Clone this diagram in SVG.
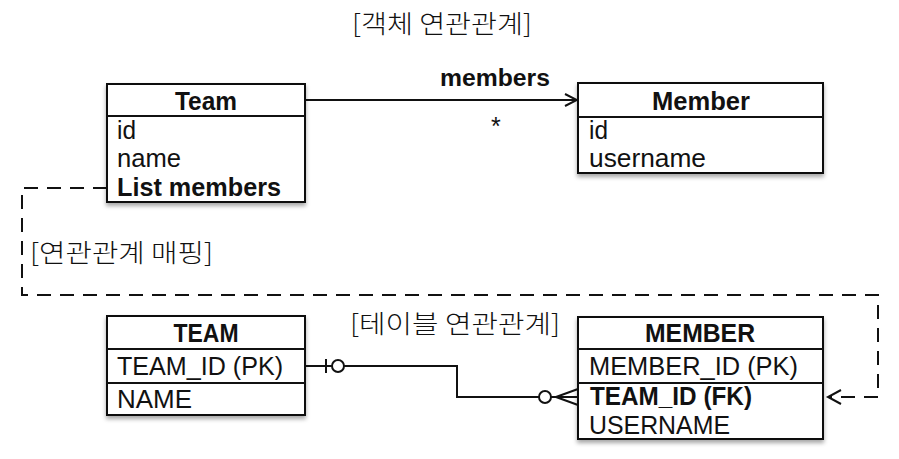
<svg xmlns="http://www.w3.org/2000/svg" width="899" height="459" viewBox="0 0 899 459">
<defs>
<style>
text{font-family:"Liberation Sans","Noto Sans CJK KR",sans-serif;fill:#111;}
.h{font-size:25px;font-weight:700;text-anchor:middle;}
.f{font-size:25px;font-weight:400;}
.fb{font-size:25px;font-weight:700;}
.lbl{font-family:"Noto Sans CJK KR",sans-serif;font-size:25px;font-weight:300;}
.box{fill:#fff;stroke:#111;stroke-width:2;filter:url(#sh);}
.ln{stroke:#111;stroke-width:2;fill:none;}
.dash{stroke:#111;stroke-width:2;fill:none;stroke-dasharray:14,9;}
</style>
<filter id="sh" x="-10%" y="-10%" width="120%" height="130%">
<feDropShadow dx="0" dy="3" stdDeviation="2" flood-color="#000" flood-opacity="0.35"/>
</filter>
<marker id="open" markerWidth="14" markerHeight="14" refX="13" refY="7" orient="auto" markerUnits="userSpaceOnUse">
<path d="M1,1 L13,7 L1,13" fill="none" stroke="#111" stroke-width="2"/>
</marker>
</defs>
<text class="lbl" x="352" y="33" textLength="180" lengthAdjust="spacingAndGlyphs">[객체 연관관계]</text>
<text class="lbl" x="350" y="333" textLength="210" lengthAdjust="spacingAndGlyphs">[테이블 연관관계]</text>
<text class="lbl" x="30" y="262" textLength="183" lengthAdjust="spacingAndGlyphs">[연관관계 매핑]</text>
<g id="connectors">
<line class="ln" x1="306" y1="100" x2="577" y2="100" marker-end="url(#open)"/>
<text class="fb" x="440" y="86" textLength="110" lengthAdjust="spacingAndGlyphs" style="font-size:24px">members</text>
<text class="f" x="491" y="135">*</text>
<path class="dash" d="M107,188 H22 V295 H878 V397 H829"/>
<path d="M841,390 L828,397 L841,404" fill="none" stroke="#111" stroke-width="2"/>
<path class="ln" d="M305,366 H332"/>
<line class="ln" x1="326" y1="359" x2="326" y2="373"/>
<circle cx="338" cy="366" r="6" fill="#fff" stroke="#111" stroke-width="2"/>
<path class="ln" d="M344,366 H457 V397 H539"/>
<circle cx="545" cy="397" r="6" fill="#fff" stroke="#111" stroke-width="2"/>
<path class="ln" d="M551,397 H578 M556,397 L578,389 M556,397 L578,405"/>
</g>
<g id="team">
<rect class="box" x="107" y="84" width="198" height="118"/>
<line class="ln" x1="107" y1="116" x2="305" y2="116"/>
<text class="h" x="206" y="110" textLength="62" lengthAdjust="spacingAndGlyphs">Team</text>
<text class="f" x="117" y="139" textLength="19" lengthAdjust="spacingAndGlyphs">id</text>
<text class="f" x="117" y="167" textLength="64" lengthAdjust="spacingAndGlyphs">name</text>
<text class="fb" x="117" y="196" textLength="164" lengthAdjust="spacingAndGlyphs">List members</text>
</g>
<g id="member">
<rect class="box" x="578" y="83" width="245" height="90"/>
<line class="ln" x1="578" y1="117" x2="823" y2="117"/>
<text class="h" x="701" y="110" textLength="98" lengthAdjust="spacingAndGlyphs">Member</text>
<text class="f" x="589" y="139" textLength="19" lengthAdjust="spacingAndGlyphs">id</text>
<text class="f" x="589" y="167" textLength="117" lengthAdjust="spacingAndGlyphs">username</text>
</g>
<g id="TEAM">
<rect class="box" x="107" y="316" width="198" height="99"/>
<line class="ln" x1="107" y1="349" x2="305" y2="349"/>
<line class="ln" x1="107" y1="383" x2="305" y2="383"/>
<text class="h" x="206" y="342" textLength="65" lengthAdjust="spacingAndGlyphs">TEAM</text>
<text class="f" x="117" y="375" textLength="166" lengthAdjust="spacingAndGlyphs">TEAM_ID (PK)</text>
<text class="f" x="117" y="408" textLength="75" lengthAdjust="spacingAndGlyphs">NAME</text>
</g>
<g id="MEMBER">
<rect class="box" x="578" y="317" width="245" height="122"/>
<line class="ln" x1="578" y1="349" x2="823" y2="349"/>
<line class="ln" x1="578" y1="383" x2="823" y2="383"/>
<text class="h" x="700" y="342" textLength="110" lengthAdjust="spacingAndGlyphs">MEMBER</text>
<text class="f" x="589" y="375" textLength="209" lengthAdjust="spacingAndGlyphs">MEMBER_ID (PK)</text>
<text class="fb" x="590" y="405" textLength="162" lengthAdjust="spacingAndGlyphs">TEAM_ID (FK)</text>
<text class="f" x="589" y="434" textLength="141" lengthAdjust="spacingAndGlyphs">USERNAME</text>
</g>
</svg>
